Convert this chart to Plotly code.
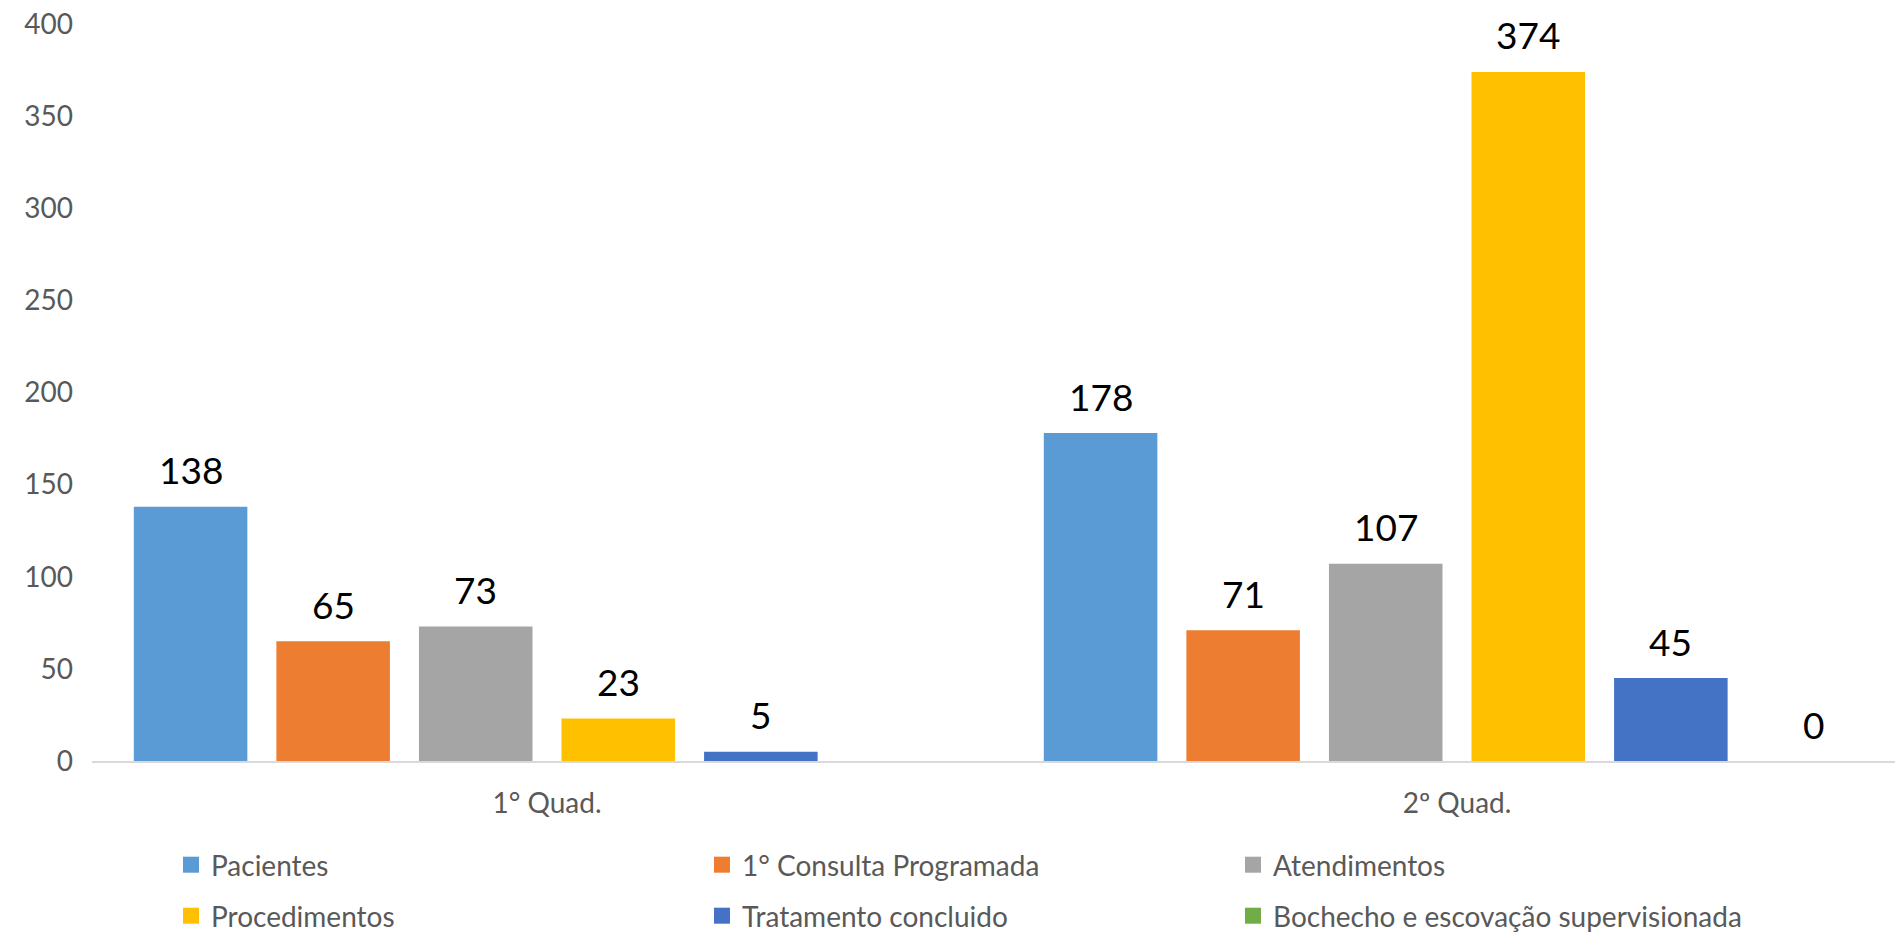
import plotly.graph_objects as go

categories = ["1° Quad.", "2º Quad."]
series_names = ["Pacientes", "1° Consulta Programada", "Atendimentos",
                "Procedimentos", "Tratamento concluido", "Bochecho e escovação supervisionada"]
pacientes = [138, 178]
consulta = [65, 71]
atendimentos = [73, 107]
procedimentos = [23, 374]
tratamento = [5, 45]
bochecho = [None, 0]
colors = ["#5B9BD5", "#ED7D31", "#A5A5A5", "#FFC000", "#4472C4", "#70AD47"]
y_ticks = [0, 50, 100, 150, 200, 250, 300, 350, 400]

all_values = [pacientes, consulta, atendimentos, procedimentos, tratamento, bochecho]

W, H = 1895, 933
ML, MT = 92, 24
BASE = 761                # pixel y of the zero line
plot_h = BASE - MT
MB = H - BASE
plot_w = W - ML

FONT = "Lato"
GRAY = "#595959"

fig = go.Figure()
n = len(series_names)
bargap = 0.06
slot = (1 - bargap) / n
for i, (name, vals, col) in enumerate(zip(series_names, all_values, colors)):
    lg = "legend" if i < 3 else "legend2"
    fig.add_trace(go.Bar(
        x=categories, y=vals, name=name, marker=dict(color=col, line=dict(width=0)),
        showlegend=False, legendgroup=name,
    ))
    # legend entry (square swatch)
    fig.add_trace(go.Scatter(
        x=[None], y=[None], mode="markers", name=name, legendgroup=name, legend=lg,
        marker=dict(symbol="square", size=16, color=col, line=dict(width=0)),
        hoverinfo="skip",
    ))
    off = -(1 - bargap) / 2 + slot * (i + 0.5)
    for j, v in enumerate(vals):
        if v is None:
            continue
        fig.add_annotation(x=j + off, y=v, xref="x", yref="y", text=str(v),
                           showarrow=False, yshift=37, yanchor="middle",
                           font=dict(family=FONT, size=37, color="#000000"))

leg_x = (171 - ML) / plot_w
ENTRY_W = 486
fig.update_layout(
    width=W, height=H,
    margin=dict(l=ML, r=0, t=MT, b=MB, autoexpand=False),
    paper_bgcolor="white", plot_bgcolor="white",
    barmode="group", bargap=bargap, bargroupgap=0.2036,
    font=dict(family=FONT, color=GRAY, size=28),
    legend=dict(orientation="h", x=leg_x, xanchor="left",
                y=-(865 - BASE) / plot_h, yanchor="middle",
                entrywidth=ENTRY_W, entrywidthmode="pixels", itemsizing="trace",
                font=dict(family=FONT, size=28, color=GRAY), bgcolor="rgba(0,0,0,0)"),
    legend2=dict(orientation="h", x=leg_x, xanchor="left",
                 y=-(916 - BASE) / plot_h, yanchor="middle",
                 entrywidth=ENTRY_W, entrywidthmode="pixels", itemsizing="trace",
                 font=dict(family=FONT, size=28, color=GRAY), bgcolor="rgba(0,0,0,0)"),
    xaxis=dict(type="category", range=[-0.5, 1.5 - 17 / 910], showgrid=False,
               showline=True, linecolor="#D9D9D9", linewidth=2, ticks="",
               ticklabelstandoff=16,
               tickfont=dict(family=FONT, size=28, color=GRAY), zeroline=False),
    yaxis=dict(range=[0, 400], tickvals=y_ticks, showgrid=False, showline=False,
               zeroline=False, ticks="", ticklabelstandoff=18,
               tickfont=dict(family=FONT, size=28, color=GRAY)),
)

fig.write_html("out.html", config={"displayModeBar": False},
               post_script="document.body.style.margin='0px';document.body.style.overflow='hidden';")
